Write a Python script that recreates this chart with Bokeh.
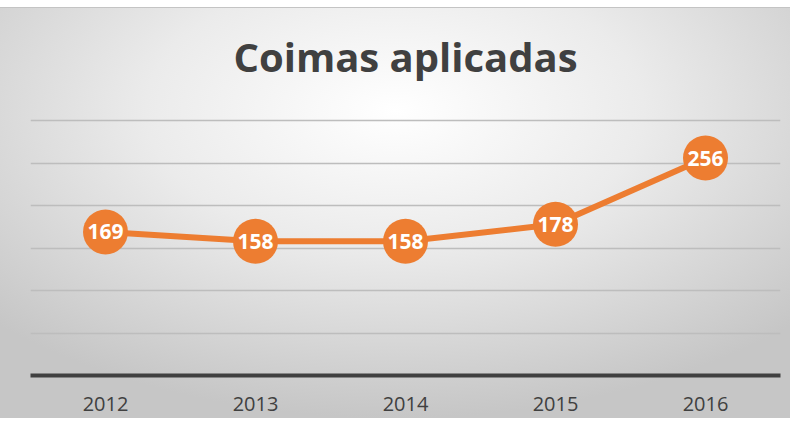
from bokeh.plotting import figure
from bokeh.models import ColumnDataSource, FactorRange, Range1d, FixedTicker, LabelSet, Label
from bokeh.core.properties import value
from bokeh.embed import file_html
from bokeh.resources import INLINE

title_text = "Coimas aplicadas"
years = ["2012", "2013", "2014", "2015", "2016"]
coimas = [169, 158, 158, 178, 256]
labels = [str(v) for v in coimas]
grid_ticks = [50, 100, 150, 200, 250, 300]

src = ColumnDataSource(dict(x=years, y=coimas, lab=labels))

W, H = 790, 411
BL, BR, BB = 30, 10, 44
Y_TOP = 432          # frame extends over the title area
TITLE_Y = 375        # baseline of the title, in the y scale
TITLE_X = len(years) / 2

p = figure(width=W, height=H, x_range=FactorRange(*years), y_range=Range1d(0, Y_TOP),
           output_backend="svg", toolbar_location=None,
           min_border_left=BL, min_border_right=BR, min_border_top=0, min_border_bottom=BB)
p.margin = (7, 0, 0, 0)
p.styles = {"background": "radial-gradient(ellipse 70% 75% at 50% 25%, #ffffff 0%, #ebebeb 45%, #c6c6c6 100%)",
            "border-top": "1px solid #c4c4c4"}
p.background_fill_alpha = 0
p.border_fill_alpha = 0
p.outline_line_color = None
p.title.visible = False

title = Label(x=TITLE_X, y=TITLE_Y, text=title_text,
              text_align="center", text_baseline="alphabetic", text_font="Open Sans",
              text_font_style="bold", text_font_size="40px", text_color="#404040")
p.add_layout(title)

p.yaxis.visible = False
p.ygrid.ticker = FixedTicker(ticks=grid_ticks)
p.ygrid.grid_line_color = "#bdbdbd"
p.ygrid.grid_line_width = 1.5
p.xgrid.grid_line_color = None

ax = p.xaxis[0]
ax.axis_line_color = "#404040"
ax.axis_line_width = 4
ax.major_tick_line_color = None
ax.minor_tick_line_color = None
ax.major_label_text_font = "Open Sans"
ax.major_label_text_font_size = "20px"
ax.major_label_text_color = "#404040"
ax.major_label_standoff = 15

p.line("x", "y", source=src, line_color="#ED7D31", line_width=6)
p.scatter("x", "y", source=src, size=45, fill_color="#ED7D31", line_color=None)
lbl = LabelSet(x="x", y="y", text="lab", source=src, text_align="center", text_baseline="middle",
               text_color="white", text_font=value("Open Sans"), text_font_style="bold",
               text_font_size="21px")
p.add_layout(lbl)

open("out.html", "w").write(file_html(p, INLINE))
